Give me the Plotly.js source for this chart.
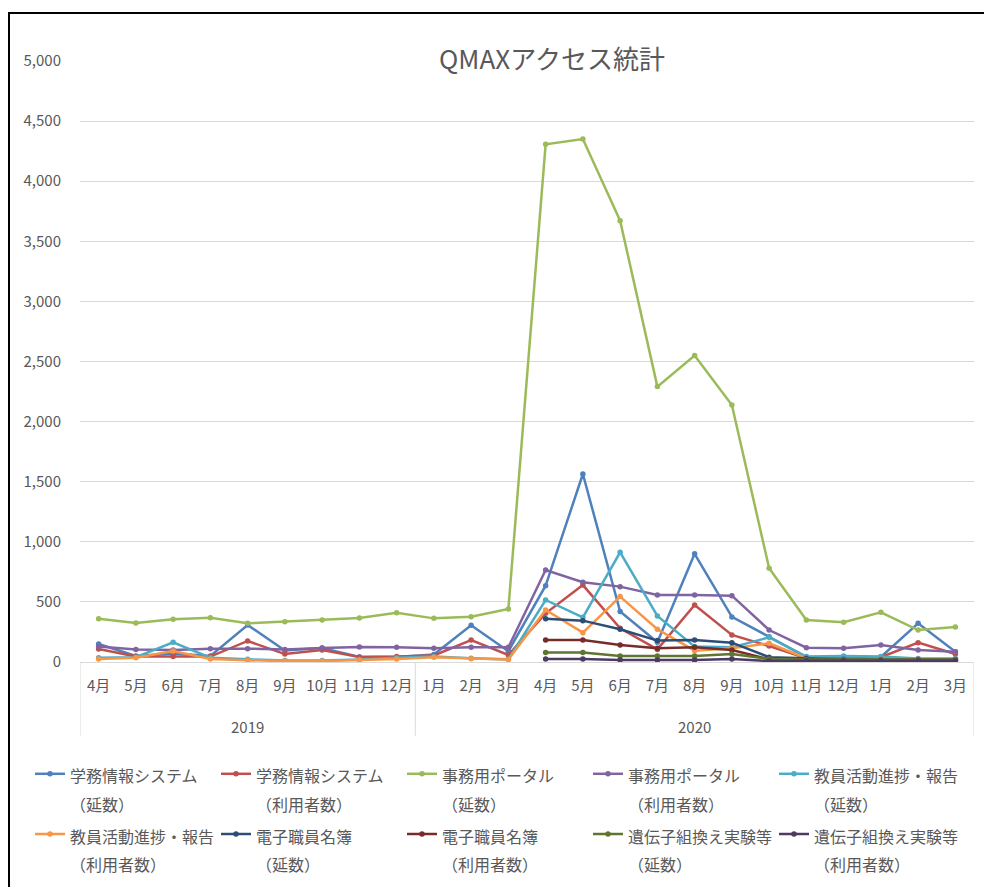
<!DOCTYPE html>
<html>
<head>
<meta charset="utf-8">
<script src="https://cdn.plot.ly/plotly-3.0.1.min.js"></script>
<style>
  html, body { margin: 0; padding: 0; overflow: hidden; background: #fff; }
  #wrap { position: relative; width: 984px; height: 887px; }
  #chart { position: absolute; left: 0; top: 0; width: 984px; height: 887px; }
  #frame { position: absolute; left: 8px; top: 12px; width: 2000px; height: 2000px;
           border-left: 2px solid #000; border-top: 2px solid #000; pointer-events: none; }
</style>
</head>
<body>
<div id="wrap"><div id="chart"></div><div id="frame"></div></div>
<script>
// ---- Data (fiscal 2019-04 .. 2021-03, Excel labels group everything after Dec 2019 under 2020) ----
const monthLabels = ['4月','5月','6月','7月','8月','9月','10月','11月','12月',
                     '1月','2月','3月','4月','5月','6月','7月','8月','9月','10月','11月','12月',
                     '1月','2月','3月'];
const yearLabels = ['2019', '2020'];
const yearSpans  = [9, 15];

const seriesNames = [
  '学務情報システム<br>（延数）',
  '学務情報システム<br>（利用者数）',
  '事務用ポータル<br>（延数）',
  '事務用ポータル<br>（利用者数）',
  '教員活動進捗・報告<br>（延数）',
  '教員活動進捗・報告<br>（利用者数）',
  '電子職員名簿<br>（延数）',
  '電子職員名簿<br>（利用者数）',
  '遺伝子組換え実験等<br>（延数）',
  '遺伝子組換え実験等<br>（利用者数）'
];

const gakumuTotal   = [150, 50, 70, 50, 308, 95, 116, 42, 42, 62, 305, 90, 635, 1564, 420, 165, 900, 375, 210, 40, 42, 42, 322, 86];
const gakumuUsers   = [108, 45, 45, 45, 175, 66, 100, 42, 45, 55, 183, 58, 405, 640, 280, 105, 474, 225, 133, 31, 22, 40, 161, 66];
const jimuTotal     = [360, 325, 355, 369, 322, 335, 349, 366, 410, 363, 377, 441, 4307, 4351, 3672, 2291, 2549, 2138, 780, 349, 330, 413, 266, 291];
const jimuUsers     = [128, 105, 100, 111, 111, 105, 116, 125, 122, 114, 122, 122, 765, 663, 627, 557, 557, 552, 266, 119, 114, 141, 100, 86];
const kyoinTotal    = [36, 40, 164, 36, 22, 12, 12, 20, 35, 45, 32, 22, 516, 372, 913, 383, 128, 122, 205, 45, 50, 45, 30, 30];
const kyoinUsers    = [25, 35, 91, 25, 15, 8, 8, 15, 25, 40, 28, 20, 433, 244, 544, 272, 94, 114, 155, 31, 20, 25, 22, 22];
const meiboTotal    = [null, null, null, null, null, null, null, null, null, null, null, null, 360, 344, 272, 178, 183, 161, 40, 31, 22, 20, 20, 20];
const meiboUsers    = [null, null, null, null, null, null, null, null, null, null, null, null, 183, 183, 141, 114, 122, 100, 22, 18, 15, 15, 15, 15];
const idenshiTotal  = [null, null, null, null, null, null, null, null, null, null, null, null, 80, 78, 50, 50, 50, 66, 25, 20, 20, 20, 20, 20];
const idenshiUsers  = [null, null, null, null, null, null, null, null, null, null, null, null, 25, 25, 17, 17, 17, 25, 8, 10, 10, 10, 10, 10];

const seriesValues = [gakumuTotal, gakumuUsers, jimuTotal, jimuUsers, kyoinTotal, kyoinUsers,
                      meiboTotal, meiboUsers, idenshiTotal, idenshiUsers];
const seriesColors = ['#4F81BD', '#C0504D', '#9BBB59', '#8064A2', '#4BACC6', '#F79646',
                      '#2C4D75', '#772C2A', '#5F7530', '#4D3B62'];

// ---- Build ----
const FONT = 'Noto Sans CJK JP, Noto Sans, sans-serif';
const TXT = '#595959';
const xIdx = monthLabels.map((_, i) => i);

const traces = seriesValues.map((vals, k) => ({
  type: 'scatter',
  mode: 'lines+markers',
  name: '<span style="font-size:16px">' + seriesNames[k] + '</span>',
  x: xIdx,
  y: vals,
  line: { color: seriesColors[k], width: 2.5 },
  marker: { color: seriesColors[k], size: 5.5 },
  hoverinfo: 'skip',
  connectgaps: false
}));

// group dividers and year labels
const shapes = [];
const annotations = [];
let start = 0;
shapes.push({ type: 'line', xref: 'x', yref: 'paper', x0: -0.5, x1: -0.5, y0: 0, y1: -0.123,
              line: { color: '#d9d9d9', width: 1 } });
yearLabels.forEach((yl, g) => {
  const end = start + yearSpans[g];
  shapes.push({ type: 'line', xref: 'x', yref: 'paper', x0: end - 0.5, x1: end - 0.5, y0: 0, y1: -0.123,
                line: { color: '#d9d9d9', width: 1 } });
  annotations.push({ xref: 'x', yref: 'paper', x: (start + end - 1) / 2, y: -0.107,
                     text: yl, showarrow: false, yanchor: 'middle', xanchor: 'center',
                     font: { family: FONT, size: 15, color: TXT } });
  start = end;
});

const PLOT_L = 80, PLOT_W = 894, PLOT_B = 662, PLOT_H = 601;

const layout = {
  width: 984, height: 887,
  margin: { l: PLOT_L, r: 10, t: 61, b: 225, autoexpand: false },
  paper_bgcolor: '#fff', plot_bgcolor: '#fff',
  font: { family: FONT, color: TXT, size: 15 },
  title: { text: 'QMAXアクセス統計', xref: 'container', yref: 'container',
           x: 552 / 984, y: 1 - 60 / 887, xanchor: 'center', yanchor: 'middle',
           font: { family: FONT, size: 26, color: TXT } },
  showlegend: true,
  legend: {
    orientation: 'h', xref: 'paper', yref: 'paper',
    x: (30 - PLOT_L) / PLOT_W, y: (PLOT_B - 753) / PLOT_H, xanchor: 'left', yanchor: 'top',
    valign: 'top', entrywidth: 141, entrywidthmode: 'pixels',
    font: { family: FONT, size: 22, color: TXT },
    traceorder: 'normal', bgcolor: 'rgba(0,0,0,0)'
  },
  xaxis: {
    type: 'linear', range: [-0.5, monthLabels.length - 0.5],
    tickmode: 'array', tickvals: xIdx, ticktext: monthLabels,
    showgrid: false, zeroline: false, showline: true, linecolor: '#d9d9d9', linewidth: 1,
    ticks: '', ticklabelstandoff: 10,
    tickfont: { family: FONT, size: 15, color: TXT }, fixedrange: true
  },
  yaxis: {
    range: [0, 5000], dtick: 500, tick0: 0, tickformat: ',d',
    showgrid: true, gridcolor: '#d9d9d9', gridwidth: 1,
    zeroline: true, zerolinecolor: '#d9d9d9', zerolinewidth: 1,
    showline: false, ticks: '', ticklabelstandoff: 18,
    tickfont: { family: FONT, size: 15, color: TXT }, fixedrange: true
  },
  shapes: shapes,
  annotations: annotations,
  hovermode: false
};

Plotly.newPlot('chart', traces, layout, { displayModeBar: false, staticPlot: true });
</script>
</body>
</html>
